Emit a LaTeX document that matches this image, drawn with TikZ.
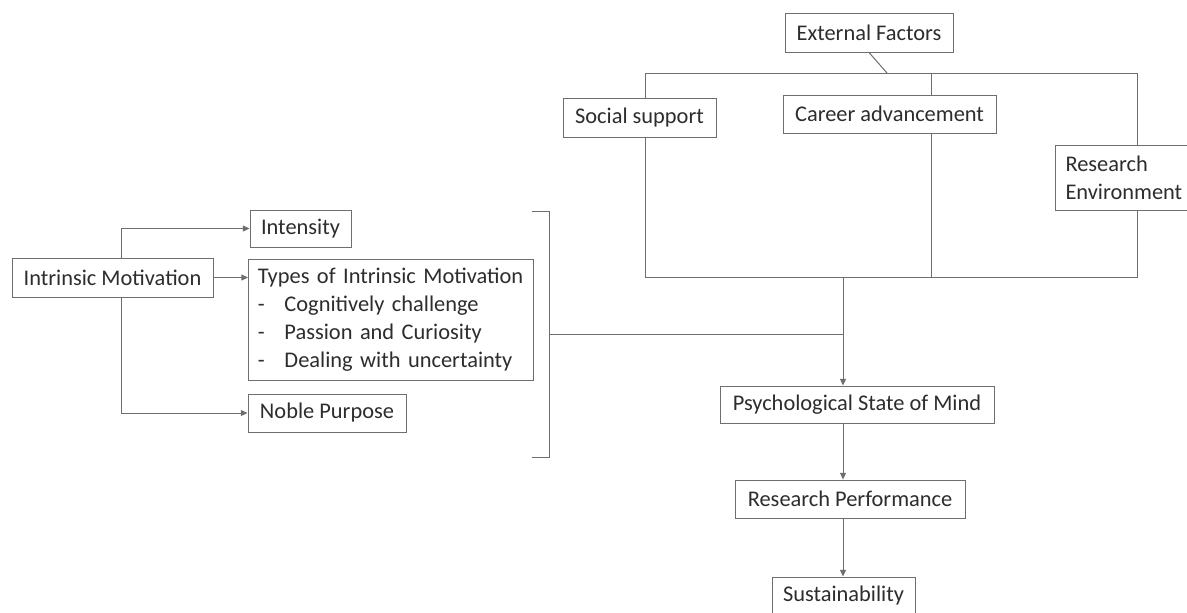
\documentclass[tikz,border=0pt]{standalone}
\usepackage{fontspec}
\setmainfont{Carlito}
\usetikzlibrary{arrows.meta}
\definecolor{linegray}{RGB}{110,110,110}
\definecolor{textgray}{RGB}{45,45,45}
\tikzset{every picture/.style={line width=0.75pt}}
\tikzset{
  fbox/.style={draw=linegray, fill=white, text=textgray, inner sep=0pt, font=\fontsize{16.8}{21}\selectfont},
  arr/.style={-{Triangle[length=5pt,width=4.5pt]}},
}

\begin{document}
\begin{tikzpicture}[x=0.75pt,y=0.75pt,yscale=-1,xscale=1]
\useasboundingbox (0,0) rectangle (1187,612);

%Shape: Rectangle (frame of the external factors)
\coordinate (fnw) at (645,73);
\coordinate (fse) at (1137,277);
\coordinate (fmid) at (931,73);
\coordinate (ftop) at (887,73);
\coordinate (spine) at (843,277);
\draw [linegray] (fnw) rectangle (fse);
%Straight Lines
\draw [linegray] (fmid) -- (fmid |- fse);

%Shape: Bracket
\coordinate (brt) at (549,211);
\coordinate (brb) at (549,457);
\coordinate (brm) at (549,334);
\draw [linegray] (532,211) -- (brt) -- (brb) -- (532,457);

% Text Node
\node [fbox, minimum width=126pt, minimum height=29.25pt] (ext) at (869,32.5) {External Factors};
% Text Node
\node [fbox, minimum width=114.75pt, minimum height=29.25pt] (soc) at (639.5,117.5) {Social support};
% Text Node
\node [fbox, minimum width=159.75pt, minimum height=28.5pt] (car) at (889.5,114) {Career advancement};
% Text Node
\node [fbox, anchor=west, inner xsep=7.5pt, minimum height=48.75pt, align=left] (env) at (1055,177.5) {Research\\Environment};
% Text Node
\node [fbox, minimum width=150.75pt, minimum height=29.25pt] (im) at (112.5,277.5) {Intrinsic Motivation};
% Text Node
\node [fbox, minimum width=75.75pt, minimum height=27.75pt] (int) at (300.5,228.5) {Intensity};
% Text Node
\node [fbox, anchor=west, inner xsep=7pt, text width=199.75pt, minimum height=90.75pt, align=left] (types) at (248,319.5) {\hyphenpenalty=10000 Types of Intrinsic Motivation\\
\makebox[20pt][l]{-}Cognitively challenge\\
\makebox[20pt][l]{-}Passion and Curiosity\\
\makebox[20pt][l]{-}Dealing with uncertainty};
% Text Node
\node [fbox, minimum width=118.5pt, minimum height=28.5pt] (noble) at (327,413) {Noble Purpose};
% Text Node
\node [fbox, minimum width=205.5pt, minimum height=27.75pt] (psy) at (857,404.5) {Psychological State of Mind};
% Text Node
\node [fbox, minimum width=172.5pt, minimum height=28.5pt] (perf) at (850,499) {Research Performance};
% Text Node
\node [fbox, minimum width=107.25pt, minimum height=27.75pt] (sus) at (843.5,595.5) {Sustainability};

%Straight Lines
\draw [linegray] (ext.south) -- (ftop);
\coordinate (imbr) at (121,277);
\draw [linegray, arr] (imbr |- im.north) |- (int.west);
\draw [linegray, arr] (im.east) -- (im.east -| types.west);
\draw [linegray, arr] (imbr |- im.south) |- (noble.west);
%Straight Lines
\draw [linegray] (brm) -- (spine |- brm);
\draw [linegray, arr] (spine) -- (spine |- psy.north);
\draw [linegray, arr] (spine |- psy.south) -- (spine |- perf.north);
\draw [linegray, arr] (spine |- perf.south) -- (spine |- sus.north);

\end{tikzpicture}
\end{document}
